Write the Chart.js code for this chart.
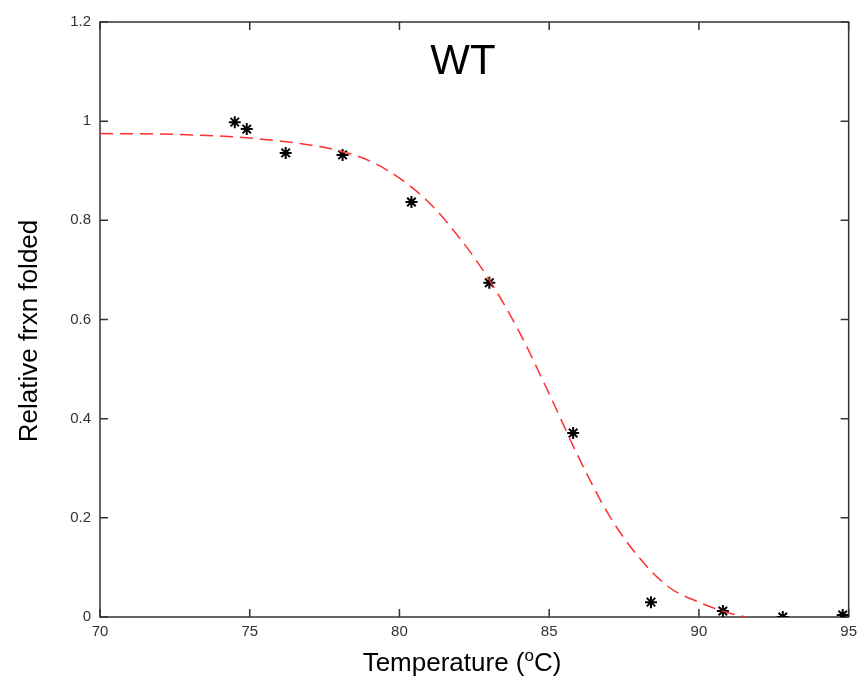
<!DOCTYPE html>
<html>
<head>
<meta charset="utf-8">
<script src="https://cdn.jsdelivr.net/npm/chart.js@4/dist/chart.umd.min.js"></script>
<style>
  html, body { margin: 0; padding: 0; background: #fff; }
  #wrap { width: 863px; height: 691px; }
</style>
</head>
<body>
<div id="wrap"><canvas id="meltChart"></canvas></div>
<script>
// Datos medidos (temperatura, fracción plegada)
const tempMeasured = [74.5, 74.9, 76.2, 78.1, 80.4, 83.0, 85.8, 88.4, 90.8, 92.8, 94.8];
const fracMeasured = [0.998, 0.984, 0.936, 0.932, 0.837, 0.674, 0.371, 0.030, 0.012, 0.0, 0.004];

// Curva ajustada
const tempFit = [70, 72, 74, 75, 76, 77, 78, 79, 80, 81, 82, 83, 84, 85, 86, 87, 88, 89, 90, 91, 91.6];
const fracFit = [0.975, 0.974, 0.970, 0.966, 0.960, 0.952, 0.940, 0.920, 0.885, 0.835, 0.765, 0.680, 0.575, 0.450, 0.320, 0.205, 0.120, 0.060, 0.030, 0.008, 0.0];

const xTicks = [70, 75, 80, 85, 90, 95];
const yTicks = [0, 0.2, 0.4, 0.6, 0.8, 1, 1.2];

const measuredPts = tempMeasured.map((t, i) => ({ x: t, y: fracMeasured[i] }));
const fitPts = tempFit.map((t, i) => ({ x: t, y: fracFit[i] }));

const FONT = "'Liberation Sans', Arial, sans-serif";

// Marco y marcas hacia dentro, estilo Matlab
const framePlugin = {
    id: "frame",
    beforeDatasetsDraw(chart) {
        const { ctx, chartArea: a, scales } = chart;
        ctx.save();
        ctx.strokeStyle = "#333";
        ctx.lineWidth = 1.5;
        ctx.strokeRect(a.left, a.top, a.right - a.left, a.bottom - a.top);
        ctx.beginPath();
        xTicks.forEach(v => {
            const px = scales.x.getPixelForValue(v);
            ctx.moveTo(px, a.bottom); ctx.lineTo(px, a.bottom - 8);
            ctx.moveTo(px, a.top); ctx.lineTo(px, a.top + 8);
        });
        yTicks.forEach(v => {
            const py = scales.y.getPixelForValue(v);
            ctx.moveTo(a.left, py); ctx.lineTo(a.left + 8, py);
            ctx.moveTo(a.right, py); ctx.lineTo(a.right - 8, py);
        });
        ctx.stroke();
        ctx.restore();
    },
    afterDraw(chart) {
        const { ctx } = chart;
        ctx.save();
        ctx.fillStyle = "#000";
        // título
        ctx.font = "42px " + FONT;
        ctx.textAlign = "center";
        ctx.textBaseline = "middle";
        ctx.fillText("WT", 463, 62);
        // título eje y
        ctx.font = "26px " + FONT;
        ctx.translate(30, 331);
        ctx.rotate(-Math.PI / 2);
        ctx.fillText("Relative frxn folded", 0, 0);
        ctx.setTransform(1, 0, 0, 1, 0, 0);
        // título eje x con superíndice
        const cx = 462, cy = 664;
        const big = "26px " + FONT;
        const small = "17px " + FONT;
        ctx.textAlign = "left";
        ctx.font = big;
        const w1 = ctx.measureText("Temperature (").width;
        const w3 = ctx.measureText("C)").width;
        ctx.font = small;
        const w2 = ctx.measureText("o").width;
        const x0 = cx - (w1 + w2 + w3) / 2;
        ctx.font = big;
        ctx.fillText("Temperature (", x0, cy);
        ctx.font = small;
        ctx.fillText("o", x0 + w1, cy - 8);
        ctx.font = big;
        ctx.fillText("C)", x0 + w1 + w2, cy);
        ctx.restore();
    }
};

new Chart(document.getElementById("meltChart"), {
    type: "scatter",
    data: {
        datasets: [{
            label: "Fit",
            data: fitPts,
            showLine: true,
            borderColor: "#ff3030",
            borderWidth: 1.5,
            borderDash: [13, 7],
            pointRadius: 0,
            cubicInterpolationMode: "monotone",
            fill: false
        }, {
            label: "Measured",
            data: measuredPts,
            pointStyle: "star",
            pointRadius: 6,
            pointBorderWidth: 2,
            borderColor: "#000",
            backgroundColor: "#000",
            showLine: false
        }]
    },
    plugins: [framePlugin],
    options: {
        responsive: true,
        maintainAspectRatio: false,
        animation: false,
        layout: { padding: { top: 22, right: 14, left: 0, bottom: 0 } },
        plugins: { legend: { display: false }, tooltip: { enabled: false } },
        scales: {
            x: {
                type: "linear",
                min: 70, max: 95,
                afterBuildTicks: s => { s.ticks = xTicks.map(v => ({ value: v })); },
                afterFit: s => { s.height = 74; },
                grid: { display: false, drawTicks: false },
                border: { display: false },
                ticks: {
                    color: "#333",
                    padding: 6,
                    font: { family: FONT, size: 15 }
                }
            },
            y: {
                type: "linear",
                min: 0, max: 1.2,
                afterBuildTicks: s => { s.ticks = yTicks.map(v => ({ value: v })); },
                afterFit: s => { s.width = 100; },
                grid: { display: false, drawTicks: false },
                border: { display: false },
                ticks: {
                    color: "#333",
                    padding: 9,
                    font: { family: FONT, size: 15 },
                    callback: v => String(Math.round(v * 10) / 10)
                }
            }
        }
    }
});
</script>
</body>
</html>
